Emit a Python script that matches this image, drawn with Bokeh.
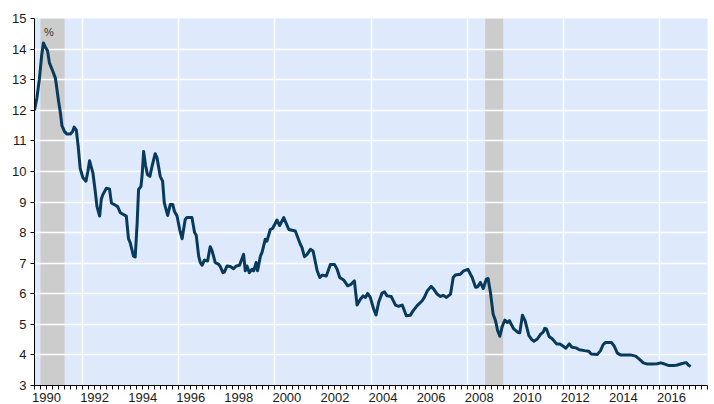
from bokeh.plotting import figure
from bokeh.models import FixedTicker, BoxAnnotation, Label, Range1d
from bokeh.embed import file_html
from bokeh.resources import INLINE

# Time (decimal years) and rate (%)
dates = [1990.0, 1990.1, 1990.2, 1990.3, 1990.37, 1990.46, 1990.54, 1990.62, 1990.75, 1990.87,
         1991.0, 1991.08, 1991.14, 1991.25, 1991.35, 1991.49, 1991.58, 1991.65, 1991.74, 1991.82,
         1991.9, 1992.01, 1992.14, 1992.22, 1992.29, 1992.36, 1992.43, 1992.52, 1992.6, 1992.71,
         1992.78, 1992.85, 1992.99, 1993.12, 1993.2, 1993.35, 1993.46, 1993.57, 1993.82, 1993.91,
         1993.98, 1994.05, 1994.12, 1994.19, 1994.27, 1994.33, 1994.43, 1994.48, 1994.54, 1994.62,
         1994.7, 1994.8, 1994.9, 1995.02, 1995.1, 1995.23, 1995.33, 1995.4, 1995.54, 1995.65,
         1995.75, 1995.82, 1995.93, 1996.04, 1996.14, 1996.27, 1996.34, 1996.55, 1996.66, 1996.73,
         1996.83, 1996.9, 1996.97, 1997.07, 1997.2, 1997.31, 1997.39, 1997.52, 1997.66, 1997.73,
         1997.84, 1997.9, 1998.01, 1998.15, 1998.28, 1998.4, 1998.53, 1998.7, 1998.77, 1998.84,
         1998.94, 1999.05, 1999.12, 1999.22, 1999.28, 1999.4, 1999.47, 1999.6, 1999.67, 1999.81,
         1999.91, 2000.09, 2000.2, 2000.37, 2000.58, 2000.85, 2001.06, 2001.13, 2001.23, 2001.34,
         2001.48, 2001.59, 2001.76, 2001.87, 2001.97, 2002.14, 2002.31, 2002.48, 2002.59, 2002.7,
         2002.86, 2003.03, 2003.17, 2003.31, 2003.42, 2003.56, 2003.67, 2003.77, 2003.86, 2003.97,
         2004.11, 2004.21, 2004.32, 2004.46, 2004.56, 2004.67, 2004.84, 2005.02, 2005.15, 2005.3,
         2005.47, 2005.64, 2005.75, 2005.92, 2006.13, 2006.22, 2006.34, 2006.5, 2006.61, 2006.75,
         2006.89, 2007.0, 2007.14, 2007.31, 2007.42, 2007.51, 2007.72, 2007.86, 2008.03, 2008.21,
         2008.35, 2008.44, 2008.55, 2008.67, 2008.8, 2008.87, 2008.97, 2009.08, 2009.18, 2009.27,
         2009.36, 2009.46, 2009.57, 2009.67, 2009.76, 2009.83, 2009.94, 2010.11, 2010.19, 2010.3,
         2010.41, 2010.57, 2010.69, 2010.78, 2010.92, 2011.06, 2011.16, 2011.23, 2011.3, 2011.41,
         2011.55, 2011.72, 2011.86, 2011.97, 2012.11, 2012.25, 2012.36, 2012.53, 2012.67, 2012.88,
         2013.06, 2013.16, 2013.41, 2013.55, 2013.66, 2013.76, 2014.0, 2014.11, 2014.25, 2014.38,
         2014.59, 2014.8, 2015.01, 2015.15, 2015.33, 2015.5, 2015.7, 2015.91, 2016.05, 2016.19,
         2016.4, 2016.6, 2016.74, 2016.91, 2017.05, 2017.13, 2017.2, 2017.3]

rates = [12.0, 12.4, 13.0, 13.8, 14.2, 14.05, 13.95, 13.55, 13.3, 13.05,
         12.3, 11.9, 11.5, 11.3, 11.22, 11.22, 11.3, 11.45, 11.35, 10.8,
         10.1, 9.8, 9.68, 10.0, 10.35, 10.15, 9.95, 9.4, 8.85, 8.54,
         9.1, 9.25, 9.45, 9.43, 8.97, 8.9, 8.85, 8.65, 8.54, 7.8,
         7.67, 7.45, 7.23, 7.2, 8.3, 9.41, 9.51, 9.9, 10.65, 10.2,
         9.9, 9.84, 10.2, 10.58, 10.44, 9.84, 9.68, 8.97, 8.56, 8.92,
         8.92, 8.70, 8.54, 8.1, 7.8, 8.43, 8.49, 8.49, 8.0, 7.91,
         7.23, 7.02, 6.93, 7.1, 7.07, 7.54, 7.40, 7.02, 6.96, 6.89,
         6.69, 6.71, 6.91, 6.89, 6.82, 6.91, 6.93, 7.29, 6.75, 6.91,
         6.69, 6.8, 6.75, 7.02, 6.75, 7.23, 7.36, 7.78, 7.72, 8.1,
         8.14, 8.41, 8.23, 8.49, 8.10, 8.05, 7.62, 7.51, 7.21, 7.29,
         7.45, 7.40, 6.75, 6.53, 6.61, 6.58, 6.96, 6.96, 6.80, 6.53,
         6.45, 6.26, 6.31, 6.42, 5.63, 5.82, 5.93, 5.88, 6.01, 5.88,
         5.50, 5.31, 5.72, 6.02, 6.06, 5.93, 5.91, 5.63, 5.59, 5.63,
         5.28, 5.30, 5.44, 5.61, 5.77, 5.88, 6.09, 6.24, 6.15, 5.99,
         5.91, 5.95, 5.88, 5.99, 6.53, 6.61, 6.64, 6.75, 6.80, 6.53,
         6.21, 6.23, 6.37, 6.17, 6.48, 6.50, 6.04, 5.34, 5.12, 4.79,
         4.61, 4.93, 5.14, 5.06, 5.12, 5.01, 4.85, 4.74, 4.72, 5.30,
         5.12, 4.63, 4.50, 4.45, 4.52, 4.68, 4.74, 4.87, 4.85, 4.60,
         4.52, 4.36, 4.36, 4.30, 4.22, 4.36, 4.25, 4.23, 4.17, 4.14,
         4.12, 4.03, 4.01, 4.14, 4.34, 4.41, 4.41, 4.30, 4.06, 4.0,
         4.0, 4.0, 3.96, 3.87, 3.74, 3.70, 3.70, 3.71, 3.74, 3.71,
         3.65, 3.65, 3.67, 3.71, 3.74, 3.74, 3.67, 3.62]

recession_starts = [1990.25, 2008.75]
recession_ends = [1991.25, 2009.5]

year_labels = ["1990", "1992", "1994", "1996", "1998", "2000", "2002",
               "2004", "2006", "2008", "2010", "2012", "2014", "2016"]
grid_years = [1992, 1996, 2000, 2004, 2008, 2012, 2016]
y_ticks = [3, 4, 5, 6, 7, 8, 9, 10, 11, 12, 13, 14, 15]
x_start, x_end = 1990, 2018
unit_label = "%"

FONT = "Liberation Sans"
TEXT = "#1a1a1a"

p = figure(width=714, height=404, output_backend="svg", toolbar_location=None,
           x_range=Range1d(x_start, x_end), y_range=Range1d(y_ticks[0], y_ticks[-1]),
           min_border_left=34, min_border_right=7, min_border_top=18, min_border_bottom=17)
p.background_fill_color = "#DEEAFB"
p.border_fill_color = "white"
p.outline_line_color = None

for s, e in zip(recession_starts, recession_ends):
    p.add_layout(BoxAnnotation(left=s, right=e, fill_color="#CCCCCC", fill_alpha=1.0,
                               line_color=None, level="image"))

p.line(dates, rates, line_color="#073A5C", line_width=3, line_join="round")

# x axis: labels centred on each labelled year, quarter tick marks
label_pos = [int(y) + 0.5 for y in year_labels]
quarters = [x_start + i * 0.25 for i in range(int((x_end - x_start) * 4) + 1)]
p.xaxis.ticker = FixedTicker(ticks=label_pos, minor_ticks=quarters)
p.xaxis.major_label_overrides = {pos: lab for pos, lab in zip(label_pos, year_labels)}
p.xaxis.major_tick_line_color = None
p.xaxis.major_tick_out = 0
p.xaxis.minor_tick_out = 4
p.xaxis.minor_tick_in = 0
p.xaxis.minor_tick_line_color = "black"
p.xaxis.axis_line_color = "black"
p.xaxis.major_label_standoff = 3
p.xaxis.major_label_text_font = FONT
p.xaxis.major_label_text_font_size = "13px"
p.xaxis.major_label_text_color = TEXT

p.yaxis.ticker = FixedTicker(ticks=y_ticks)
p.yaxis.major_tick_out = 4
p.yaxis.major_tick_in = 0
p.yaxis.minor_tick_line_color = None
p.yaxis.axis_line_color = "black"
p.yaxis.major_tick_line_color = "black"
p.yaxis.major_label_standoff = 4
p.yaxis.major_label_text_font = FONT
p.yaxis.major_label_text_font_size = "13px"
p.yaxis.major_label_text_color = TEXT

p.xgrid.ticker = FixedTicker(ticks=grid_years)
p.xgrid.grid_line_color = "white"
p.xgrid.grid_line_width = 1.5
p.ygrid.grid_line_color = "white"
p.ygrid.grid_line_width = 1.5

p.add_layout(Label(x=x_start + 0.6, y=y_ticks[-1] - 0.45, text=unit_label,
                   text_font=FONT, text_font_size="11px", text_color="#333333",
                   text_align="center", text_baseline="middle"))

open("out.html", "w").write(file_html(p, INLINE))
